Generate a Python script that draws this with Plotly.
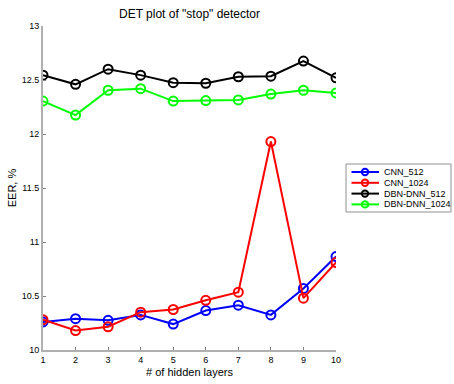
import plotly.graph_objects as go

hidden_layers = [1, 2, 3, 4, 5, 6, 7, 8, 9, 10]
cnn_512 = [10.26, 10.29, 10.275, 10.325, 10.24, 10.365, 10.415, 10.325, 10.57, 10.865]
cnn_1024 = [10.28, 10.18, 10.215, 10.35, 10.375, 10.46, 10.535, 11.93, 10.48, 10.81]
dbn_dnn_512 = [12.545, 12.46, 12.60, 12.545, 12.475, 12.47, 12.53, 12.535, 12.675, 12.52]
dbn_dnn_1024 = [12.305, 12.175, 12.405, 12.42, 12.305, 12.31, 12.315, 12.37, 12.405, 12.38]

series = [
    ("CNN_512", cnn_512, "#0000ff"),
    ("CNN_1024", cnn_1024, "#ff0000"),
    ("DBN-DNN_512", dbn_dnn_512, "#000000"),
    ("DBN-DNN_1024", dbn_dnn_1024, "#00ff00"),
]

W, H = 454, 384
ML, MR, MT, MB = 43, 118, 26, 34
PW, PH = W - ML - MR, H - MT - MB


def px(x):
    # pixel column -> paper x
    return (x - ML) / PW


def py(y):
    # pixel row -> paper y
    return (H - MB - y) / PH


fig = go.Figure()
for name, vals, color in series:
    fig.add_trace(go.Scatter(
        x=hidden_layers, y=vals, name=name, mode="lines+markers",
        line=dict(color=color, width=2),
        marker=dict(symbol="circle-open", size=9, color=color, line=dict(width=2, color=color)),
        showlegend=False,
    ))

font = "Liberation Sans, Arial, sans-serif"

# compact boxed legend in the right margin
shapes = [dict(type="rect", xref="paper", yref="paper",
               x0=px(346), x1=px(451), y0=py(164), y1=py(212),
               line=dict(color="#909090", width=1), fillcolor="white", layer="above")]
annotations = []
for i, (name, _, color) in enumerate(series):
    yc = 172 + i * 10.8
    shapes.append(dict(type="line", xref="paper", yref="paper",
                       x0=px(351.5), x1=px(379), y0=py(yc), y1=py(yc),
                       line=dict(color=color, width=2), layer="above"))
    shapes.append(dict(type="circle", xref="paper", yref="paper",
                       x0=px(365 - 3.2), x1=px(365 + 3.2), y0=py(yc + 3.2), y1=py(yc - 3.2),
                       line=dict(color=color, width=2), fillcolor="rgba(0,0,0,0)", layer="above"))
    annotations.append(dict(text=name, xref="paper", yref="paper", x=px(382), y=py(yc),
                            xanchor="left", yanchor="middle", showarrow=False,
                            font=dict(size=9, family=font, color="black")))

fig.update_layout(
    width=W, height=H,
    margin=dict(l=ML, r=MR, t=MT, b=MB, autoexpand=False),
    paper_bgcolor="white", plot_bgcolor="white",
    font=dict(family=font, size=9, color="black"),
    title=dict(text='DET plot of "stop" detector', x=0.5, xref="paper",
               y=1 - 14 / H, yanchor="middle", font=dict(size=12, family=font)),
    xaxis=dict(range=[1, 10], tickvals=hidden_layers, ticks="inside", ticklen=3,
               showgrid=False, zeroline=False, showline=True, linecolor="#b0b0b0",
               linewidth=2, tickcolor="#808080", automargin=False,
               title=dict(text="# of hidden layers", font=dict(size=11), standoff=5)),
    yaxis=dict(range=[10, 13], tickvals=[10, 10.5, 11, 11.5, 12, 12.5, 13],
               ticktext=["10", "10.5", "11", "11.5", "12", "12.5", "13"],
               ticks="inside", ticklen=3, showgrid=False, zeroline=False,
               showline=True, linecolor="#b0b0b0", linewidth=2, tickcolor="#808080",
               automargin=False,
               title=dict(text="EER, %", font=dict(size=11), standoff=3)),
    shapes=shapes,
    annotations=annotations,
    showlegend=False,
)

fig.write_html("out.html")
